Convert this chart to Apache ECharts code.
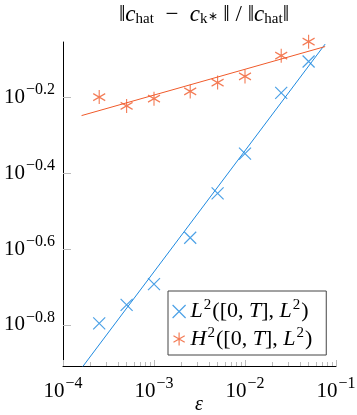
<!DOCTYPE html>
<html>
<head>
<meta charset="utf-8">
<script src="https://cdn.jsdelivr.net/npm/echarts@6/dist/echarts.min.js"></script>
<style>
  html, body { margin: 0; padding: 0; background: #fff; }
  #chart { width: 357px; height: 415px; }
</style>
</head>
<body>
<div id="chart"></div>
<script>
// step sizes (epsilon)
const eps = [2.5e-4, 5e-4, 1e-3, 2.5e-3, 5e-3, 1e-2, 2.5e-2, 5e-2];
// relative errors
const errL2 = [0.160, 0.179, 0.203, 0.269, 0.352, 0.448, 0.647, 0.783];
const errH2 = [0.631, 0.598, 0.625, 0.653, 0.689, 0.715, 0.811, 0.883];
// fitted lines (end points)
const fitEps = [1.6e-4, 7.6e-2];
const fitL2 = [0.122, 0.870];
const fitH2 = [0.564, 0.857];
// tick exponents
const yTicks = [-0.8, -0.6, -0.4, -0.2];

const blue = '#1f8ae0';
const orange = '#f05a2a';
const serif = 'Liberation Serif';

const crossPath = 'path://M0,0L10,10M10,0L0,10';
const starPath = 'path://M8.66,0L8.66,20M0,5L17.32,15M0,15L17.32,5';

let lg = (v) => Math.log10(v);
let pts = (xs, ys) => xs.map((x, i) => [lg(x), lg(ys[i])]);

// minor ticks 2..9 in each decade
let minor = [];
for (let d = -4; d < -1; d++) {
    for (let k = 2; k < 10; k++) minor.push(lg(k * Math.pow(10, d)));
}

let fmtPow = (v) => '{b|10}{e|' + String(Math.round(v * 10) / 10).replace('-', '−') + '}';
let powRich = {
    b: { fontFamily: serif, fontSize: 21, color: '#000' },
    e: { fontFamily: serif, fontSize: 16, color: '#000', padding: [0, 0, 14, 1] }
};

let legendRich = {
    i: { fontFamily: serif, fontSize: 22, fontStyle: 'italic', color: '#000' },
    n: { fontFamily: serif, fontSize: 22, color: '#000' },
    p: { fontFamily: serif, fontSize: 15, color: '#000', padding: [0, 1, 12, 1] }
};
let legendText = {
    L2: '{i|L}{p|2}{n|([0, }{i|T}{n|], }{i|L}{p|2}{n|)}',
    H2: '{i|H}{p|2}{n|([0, }{i|T}{n|], }{i|L}{p|2}{n|)}'
};

let myChart = echarts.init(document.getElementById('chart'), null, { renderer: 'canvas' });
myChart.setOption({
    animation: false,
    title: {
        text: '{n|‖}{i|c}{s|hat}{n|  −  }{i|c}{s|k}{t|∗}{n| ‖ / ‖}{i|c}{s|hat}{n|‖}',
        left: 199,
        textAlign: 'center',
        top: -2,
        textStyle: {
            fontWeight: 'normal',
            rich: {
                n: { fontFamily: serif, fontSize: 23, fontWeight: 'normal', color: '#000' },
                i: { fontFamily: serif, fontSize: 23, fontStyle: 'italic', fontWeight: 'normal', color: '#000' },
                s: { fontFamily: serif, fontSize: 15, fontWeight: 'normal', color: '#000', padding: [9, 0, 0, 0] },
                t: { fontFamily: serif, fontSize: 12, fontWeight: 'normal', color: '#000', padding: [3, 0, 0, 0] }
            }
        }
    },
    // x-axis name
    graphic: [{
        type: 'text',
        x: 199,
        y: 405,
        style: {
            text: 'ε',
            fontFamily: serif,
            fontSize: 20,
            fontStyle: 'italic',
            fill: '#000',
            align: 'center',
            verticalAlign: 'middle'
        }
    }],
    grid: { left: 63, right: 21, top: 42, bottom: 49, outerBoundsMode: 'none' },
    legend: {
        orient: 'vertical',
        left: 168,
        top: 291,
        padding: [7, 14, 5, 4],
        itemGap: 3,
        itemWidth: 13,
        itemHeight: 13,
        borderColor: '#444',
        borderWidth: 1,
        data: [
            { name: 'L2', icon: crossPath, itemStyle: { color: 'transparent', borderColor: blue, borderWidth: 1.2 } },
            { name: 'H2', icon: starPath, itemStyle: { color: 'transparent', borderColor: orange, borderWidth: 1.2 } }
        ],
        formatter: (name) => legendText[name],
        textStyle: { rich: legendRich }
    },
    xAxis: [{
        type: 'value',
        min: -4,
        max: -1,
        interval: 1,
        axisLine: { lineStyle: { color: '#000', width: 1 } },
        axisTick: { inside: true, length: 6, lineStyle: { color: '#bbb' } },
        axisLabel: { margin: 10, formatter: fmtPow, rich: powRich },
        splitLine: { show: false }
    }, {
        type: 'value',
        min: -4,
        max: -1,
        position: 'bottom',
        axisLine: { show: false },
        axisTick: { inside: true, length: 4, customValues: minor, lineStyle: { color: '#bbb' } },
        axisLabel: { show: false },
        splitLine: { show: false }
    }],
    yAxis: {
        type: 'value',
        min: -0.908,
        max: -0.055,
        axisLine: { show: true, lineStyle: { color: '#000', width: 1 } },
        axisTick: { show: true, inside: true, length: 8, customValues: yTicks, lineStyle: { color: '#bbb' } },
        axisLabel: { margin: 8, customValues: yTicks, formatter: fmtPow, rich: powRich },
        splitLine: { show: false }
    },
    series: [{
        name: 'fitL2',
        type: 'line',
        data: pts(fitEps, fitL2),
        showSymbol: false,
        clip: true,
        lineStyle: { color: blue, width: 1 }
    }, {
        name: 'fitH2',
        type: 'line',
        data: pts(fitEps, fitH2),
        showSymbol: false,
        clip: true,
        lineStyle: { color: orange, width: 1 }
    }, {
        name: 'L2',
        type: 'scatter',
        data: pts(eps, errL2),
        clip: false,
        symbol: crossPath,
        symbolSize: 12,
        itemStyle: { color: 'transparent', borderColor: blue, borderWidth: 1.2 }
    }, {
        name: 'H2',
        type: 'scatter',
        data: pts(eps, errH2),
        clip: false,
        symbol: starPath,
        symbolSize: [12, 14],
        itemStyle: { color: 'transparent', borderColor: orange, borderWidth: 1.2 }
    }]
});
</script>
</body>
</html>
